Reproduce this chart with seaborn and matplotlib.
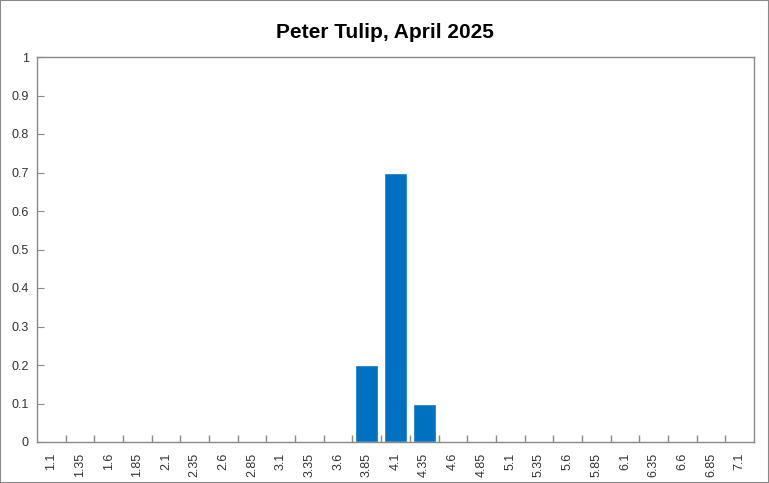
import numpy as np
import pandas as pd
import seaborn as sns
import matplotlib.pyplot as plt
from matplotlib.patches import Rectangle
from matplotlib.ticker import FixedLocator

bins = ['1.1', '1.35', '1.6', '1.85', '2.1', '2.35', '2.6', '2.85', '3.1', '3.35',
        '3.6', '3.85', '4.1', '4.35', '4.6', '4.85', '5.1', '5.35', '5.6', '5.85',
        '6.1', '6.35', '6.6', '6.85', '7.1']
share = [0, 0, 0, 0, 0, 0, 0, 0, 0, 0,
         0, 0.2, 0.7, 0.1, 0, 0, 0, 0, 0, 0,
         0, 0, 0, 0, 0]
yticks = [0, 0.1, 0.2, 0.3, 0.4, 0.5, 0.6, 0.7, 0.8, 0.9, 1]

df = pd.DataFrame({'bin': bins, 'share': share})

sns.set_style('white')
plt.rcParams['font.family'] = ['Liberation Sans', 'DejaVu Sans']

fig = plt.figure(figsize=(7.69, 4.83), dpi=100)
ax = fig.add_axes([37 / 769, 1 - 442 / 483, (754 - 37) / 769, (442 - 57) / 483])

sns.barplot(data=df, x='bin', y='share', order=bins, color='#0070C0',
            width=0.8, saturation=1, ax=ax)

ax.set_xlim(-0.5, len(bins) - 0.5)
ax.set_ylim(0, 1)
ax.set_yticks(yticks)
ax.set_yticklabels(['{:g}'.format(v) for v in yticks], fontsize=9, color='#333333')
ax.tick_params(axis='y', left=True, direction='in', length=5, color='#898989', pad=6)
ax.set_xticks(range(len(bins)))
ax.set_xticklabels(bins, rotation=90, fontsize=9, color='#333333')
ax.tick_params(axis='x', which='major', bottom=True, length=0, pad=8)
ax.xaxis.set_minor_locator(FixedLocator(np.arange(0.5, len(bins) - 1, 1)))
ax.tick_params(axis='x', which='minor', bottom=True, direction='in', length=5,
               width=1, color='#898989')
ax.set_xlabel('')
ax.set_ylabel('')
for s in ax.spines.values():
    s.set_color('#898989')
    s.set_linewidth(1)

fig.text(0.5, 1 - 32 / 483, 'Peter Tulip, April 2025', ha='center', va='center',
         fontsize=15, fontweight='bold', color='black')
fig.patches.append(Rectangle((0, 0), 1, 1, transform=fig.transFigure, fill=False,
                             edgecolor='#898989', linewidth=1.5))

fig.savefig('out.png', dpi=100)
